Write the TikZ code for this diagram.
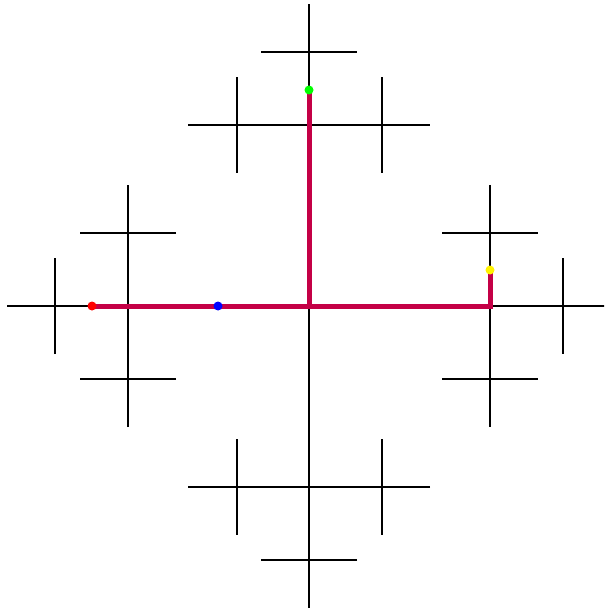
\documentclass[tikz,border=0pt]{standalone}
\usepackage{xcolor}
\usepackage{tikz}

\definecolor{pathred}{RGB}{196,0,70}

\begin{document}
\begin{tikzpicture}[
  x=1pt, y=-1pt,
  branch/.style={draw, black, line width=2pt},
  route/.style={draw, pathred, line width=5pt, line join=miter},
  dot/.style={circle, inner sep=0pt, minimum size=9pt}
]
  \useasboundingbox (0,0) rectangle (604,609);
  \clip (0,0) rectangle (604,609);
  \coordinate (center) at (309,306);
  % four arms of the cross tree
  \foreach \a in {0,90,180,270} {
    \begin{scope}[shift={(center)}, rotate=\a]
      \draw[branch] (0,0) -- (302,0);
      \draw[branch] (181,-121) -- (181,121);
      \draw[branch] (133,-72.5) -- (229,-72.5);
      \draw[branch] (133,72.5) -- (229,72.5);
      \draw[branch] (254,-48) -- (254,48);
    \end{scope}
  }
  \coordinate (start) at (92,306);
  \coordinate (mid) at (218,306);
  \coordinate (top) at (309,90);
  \coordinate (corner) at (490,306);
  \coordinate (goal) at (490,270);
  \draw[route] (start) -- (corner) -- (goal);
  \draw[route] (center) -- (top);
  \node[dot, fill=red] (startdot) at (start) {};
  \node[dot, fill=blue] (middot) at (mid) {};
  \node[dot, fill=green] (topdot) at (top) {};
  \node[dot, fill=yellow] (goaldot) at (goal) {};
\end{tikzpicture}
\end{document}
